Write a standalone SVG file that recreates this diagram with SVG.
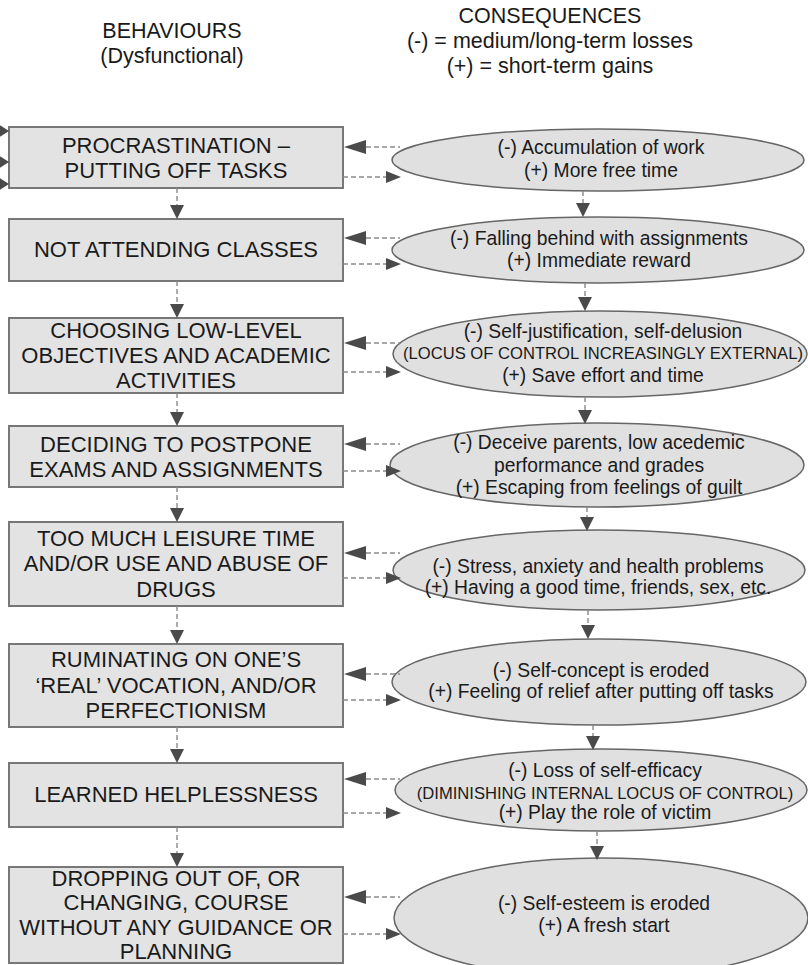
<svg xmlns="http://www.w3.org/2000/svg" width="808" height="965" viewBox="0 0 808 965">
<style>
text{font-family:"Liberation Sans",Arial,sans-serif;fill:#1a1a1a;text-anchor:middle}
.hd{font-size:21.5px}
.bx{font-size:22px}
.el{font-size:19.3px}
.sm{font-size:16.6px}
.box{fill:#e3e3e3;stroke:#777;stroke-width:2}
.ell{fill:#e0e0e0;stroke:#666;stroke-width:1.5}
.dash{stroke:#8a8a8a;stroke-width:1.4;stroke-dasharray:5 3;fill:none}
.ah{fill:#4a4a4a}
</style>
<rect width="808" height="965" fill="#fff"/>
<g id="header">
<text class="hd" x="172" y="38">BEHAVIOURS</text>
<text class="hd" x="172" y="63">(Dysfunctional)</text>
<text class="hd" x="550" y="23">CONSEQUENCES</text>
<text class="hd" x="550" y="48">(-) = medium/long-term losses</text>
<text class="hd" x="550" y="73">(+) = short-term gains</text>
</g>
<g id="b1"><rect class="box" x="9" y="127" width="334" height="61"/><text class="bx" x="176" y="153">PROCRASTINATION –</text><text class="bx" x="176" y="178">PUTTING OFF TASKS</text></g>
<g id="b2"><rect class="box" x="9" y="219" width="334" height="62"/><text class="bx" x="176" y="257">NOT ATTENDING CLASSES</text></g>
<g id="b3"><rect class="box" x="9" y="318" width="334" height="75"/><text class="bx" x="176" y="338">CHOOSING LOW-LEVEL</text><text class="bx" x="176" y="363">OBJECTIVES AND ACADEMIC</text><text class="bx" x="176" y="388">ACTIVITIES</text></g>
<g id="b4"><rect class="box" x="9" y="426" width="334" height="61"/><text class="bx" x="176" y="452">DECIDING TO POSTPONE</text><text class="bx" x="176" y="477">EXAMS AND ASSIGNMENTS</text></g>
<g id="b5"><rect class="box" x="9" y="522" width="334" height="84"/><text class="bx" x="176" y="546">TOO MUCH LEISURE TIME</text><text class="bx" x="176" y="571">AND/OR USE AND ABUSE OF</text><text class="bx" x="176" y="597">DRUGS</text></g>
<g id="b6"><rect class="box" x="9" y="644" width="334" height="83"/><text class="bx" x="176" y="667">RUMINATING ON ONE’S</text><text class="bx" x="176" y="693">‘REAL’ VOCATION, AND/OR</text><text class="bx" x="176" y="718">PERFECTIONISM</text></g>
<g id="b7"><rect class="box" x="9" y="763" width="334" height="64"/><text class="bx" x="176" y="802">LEARNED HELPLESSNESS</text></g>
<g id="b8"><rect class="box" x="9" y="867" width="334" height="96"/><text class="bx" x="176" y="886">DROPPING OUT OF, OR</text><text class="bx" x="176" y="910">CHANGING, COURSE</text><text class="bx" x="176" y="935">WITHOUT ANY GUIDANCE OR</text><text class="bx" x="176" y="959">PLANNING</text></g>
<g id="e1"><ellipse class="ell" cx="598" cy="160" rx="206" ry="31"/><text class="el" x="601" y="154">(-) Accumulation of work</text><text class="el" x="601" y="177">(+) More free time</text></g>
<g id="e2"><ellipse class="ell" cx="598" cy="250" rx="206" ry="33"/><text class="el" x="599" y="245">(-) Falling behind with assignments</text><text class="el" x="599" y="267">(+) Immediate reward</text></g>
<g id="e3"><ellipse class="ell" cx="600" cy="354" rx="207" ry="43"/><text class="el" x="603" y="338">(-) Self-justification, self-delusion</text><text class="sm" x="603" y="359">(LOCUS OF CONTROL INCREASINGLY EXTERNAL)</text><text class="el" x="603" y="382">(+) Save effort and time</text></g>
<g id="e4"><ellipse class="ell" cx="597" cy="465" rx="207" ry="42"/><text class="el" x="599" y="449">(-) Deceive parents, low acedemic</text><text class="el" x="599" y="472">performance and grades</text><text class="el" x="599" y="494">(+) Escaping from feelings of guilt</text></g>
<g id="e5"><ellipse class="ell" cx="599" cy="570" rx="206" ry="40"/><text class="el" x="598" y="573">(-) Stress, anxiety and health problems</text><text class="el" x="598" y="594">(+) Having a good time, friends, sex, etc.</text></g>
<g id="e6"><ellipse class="ell" cx="599" cy="682" rx="207" ry="43"/><text class="el" x="601" y="677">(-) Self-concept is eroded</text><text class="el" x="601" y="698">(+) Feeling of relief after putting off tasks</text></g>
<g id="e7"><ellipse class="ell" cx="601" cy="790" rx="206" ry="41"/><text class="el" x="605" y="777">(-) Loss of self-efficacy</text><text class="sm" x="605" y="799">(DIMINISHING INTERNAL LOCUS OF CONTROL)</text><text class="el" x="605" y="819">(+) Play the role of victim</text></g>
<g id="e8"><ellipse class="ell" cx="601" cy="918" rx="207" ry="60"/><text class="el" x="604" y="910">(-) Self-esteem is eroded</text><text class="el" x="604" y="932">(+) A fresh start</text></g>
<g id="connectors">
<polygon class="ah" points="-2,124 9,131 -2,138"/>
<polygon class="ah" points="-2,155 9,162 -2,169"/>
<polygon class="ah" points="-2,177 9,184 -2,191"/>
<path class="dash" d="M177 188V205M177 281V304M177 393V412M177 487V508M177 606V630M177 727V749M177 827V853"/>
<polygon class="ah" points="170,205 184,205 177,219"/>
<polygon class="ah" points="170,304 184,304 177,318"/>
<polygon class="ah" points="170,412 184,412 177,426"/>
<polygon class="ah" points="170,508 184,508 177,522"/>
<polygon class="ah" points="170,630 184,630 177,644"/>
<polygon class="ah" points="170,749 184,749 177,763"/>
<polygon class="ah" points="170,853 184,853 177,867"/>
<path class="dash" d="M583 191V203M585 283V297M585 397V410M587 507V517M588 610V625M593 725V736M597 831V846"/>
<polygon class="ah" points="576,203 590,203 583,217"/>
<polygon class="ah" points="578,297 592,297 585,311"/>
<polygon class="ah" points="578,410 592,410 585,424"/>
<polygon class="ah" points="580,517 594,517 587,531"/>
<polygon class="ah" points="581,625 595,625 588,639"/>
<polygon class="ah" points="586,736 600,736 593,750"/>
<polygon class="ah" points="590,846 604,846 597,860"/>
<path class="dash" d="M366 147H400M343 177H386M366 238H400M343 264H386M366 343H400M343 372H386M366 444H400M343 471H386M366 553H400M343 578H386M366 674H400M343 700H386M366 779H400M343 813H386M366 897H400M343 934H386"/>
<polygon class="ah" points="366,140 366,154 344,147"/>
<polygon class="ah" points="386,171 386,183 401,177"/>
<polygon class="ah" points="366,231 366,245 344,238"/>
<polygon class="ah" points="386,258 386,270 401,264"/>
<polygon class="ah" points="366,336 366,350 344,343"/>
<polygon class="ah" points="386,366 386,378 401,372"/>
<polygon class="ah" points="366,437 366,451 344,444"/>
<polygon class="ah" points="386,465 386,477 401,471"/>
<polygon class="ah" points="366,546 366,560 344,553"/>
<polygon class="ah" points="386,572 386,584 401,578"/>
<polygon class="ah" points="366,667 366,681 344,674"/>
<polygon class="ah" points="386,694 386,706 401,700"/>
<polygon class="ah" points="366,772 366,786 344,779"/>
<polygon class="ah" points="386,807 386,819 401,813"/>
<polygon class="ah" points="366,890 366,904 344,897"/>
<polygon class="ah" points="386,928 386,940 401,934"/>
</g>
</svg>
